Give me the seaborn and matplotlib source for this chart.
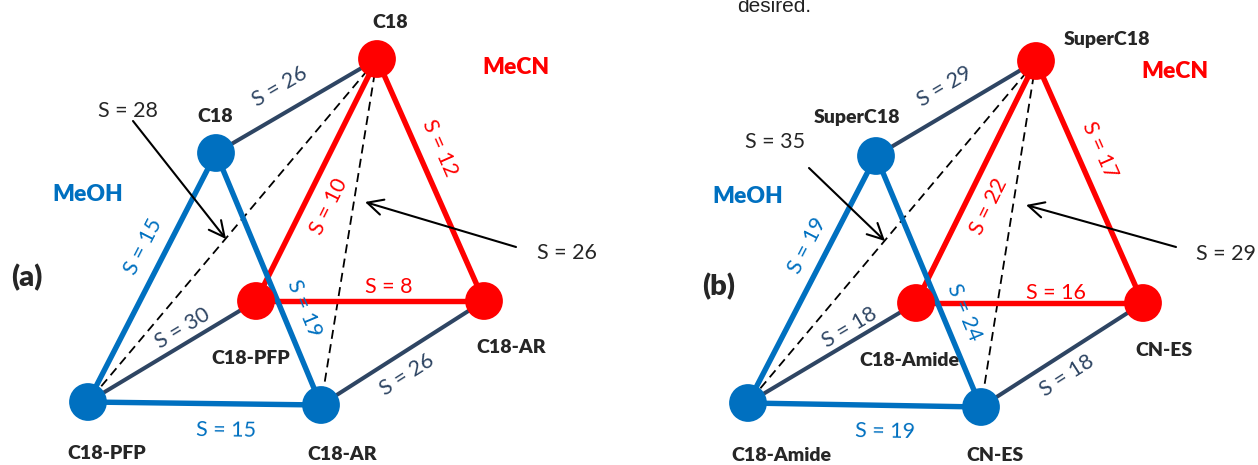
import numpy as np
import pandas as pd
import matplotlib.pyplot as plt
import seaborn as sns

sns.set_style('white')
plt.rcParams['font.family'] = ['Lato', 'DejaVu Sans']

BLUE = '#0070C0'
RED = '#FF0000'
NAVY = '#2E4563'

# ---- data (positions in picture pixels, y down) ----
# panel (a)
a_names = ['C18', 'C18-PFP', 'C18-AR']
a_meoh_x = [216, 88, 321]
a_meoh_y = [153, 402, 405]
a_mecn_x = [377, 256, 484]
a_mecn_y = [59, 301, 301]
a_meoh_S = [15, 19, 15]    # top-left, top-right, left-right
a_mecn_S = [10, 12, 8]
a_cross_S = [26, 30, 26]   # top, left, right (MeOH -> MeCN)
a_diag_S = [28, 26]        # top(MeCN) -> left(MeOH), top(MeCN) -> right(MeOH)

# panel (b)
b_names = ['SuperC18', 'C18-Amide', 'CN-ES']
b_meoh_x = [876, 748, 981]
b_meoh_y = [156, 403, 407]
b_mecn_x = [1036, 916, 1143]
b_mecn_y = [61, 303, 303]
b_meoh_S = [19, 24, 19]
b_mecn_S = [22, 17, 16]
b_cross_S = [29, 18, 18]
b_diag_S = [35, 29]

# label layout
a_lay = dict(
    meoh_lab=[(143, 247), (304, 308), (226, 430)],
    mecn_lab=[(329, 207), (440, 148), (389, 287)],
    cross_lab=[(280, 87), (183, 328), (407, 375)],
    name_meoh=[(215, 116), (107, 453), (342, 454)],
    name_mecn=[(390, 22), (251, 358), (511, 347)],
    meoh_txt=(88, 194), mecn_txt=(516, 68), letter=('(a)', 27, 278),
    diag=[((128, 111), (133, 121), (226, 239)),
          ((567, 253), (516, 247), (365, 202))],
)
b_lay = dict(
    meoh_lab=[(807, 246), (964, 312), (885, 432)],
    mecn_lab=[(989, 207), (1100, 150), (1056, 293)],
    cross_lab=[(945, 87), (850, 328), (1067, 376)],
    name_meoh=[(857, 117), (781, 455), (995, 455)],
    name_mecn=[(1107, 39), (909, 360), (1164, 350)],
    meoh_txt=(748, 196), mecn_txt=(1175, 71), letter=('(b)', 719, 287),
    diag=[((775, 142), (809, 168), (885, 241)),
          ((1226, 254), (1176, 247), (1026, 205))],
)

fig = plt.figure(figsize=(12.58, 4.65), dpi=100)
ax = fig.add_axes([0, 0, 1, 1])


def edge(ax, x0, y0, x1, y1, color, lw, ls='-', z=2):
    d = pd.DataFrame({'x': [x0, x1], 'y': [y0, y1]})
    sns.lineplot(data=d, x='x', y='y', sort=False, estimator=None, ax=ax,
                 color=color, lw=lw, linestyle=ls, zorder=z)


def angle(x0, y0, x1, y1):
    a = np.degrees(np.arctan2(-(y1 - y0), x1 - x0))
    if a > 90:
        a -= 180
    if a < -90:
        a += 180
    return a


def panel(ax, names, mx, my, cx, cy, sm, sc, sx, sd, lay):
    pairs = [(0, 1), (0, 2), (1, 2)]
    # cross edges (navy)
    for i in range(3):
        edge(ax, mx[i], my[i], cx[i], cy[i], NAVY, 2.9, z=1)
        px, py = lay['cross_lab'][i]
        ax.text(px, py, f'S = {sx[i]}', color=NAVY, fontsize=15.5,
                rotation=angle(mx[i], my[i], cx[i], cy[i]),
                ha='center', va='center', rotation_mode='anchor', zorder=6)
    # dashed diagonals
    for k in [1, 2]:
        edge(ax, cx[0], cy[0], mx[k], my[k], 'black', 1.3, ls=(0, (5, 3)), z=1)
    # MeCN triangle
    for n, (i, k) in enumerate(pairs):
        edge(ax, cx[i], cy[i], cx[k], cy[k], RED, 3.9, z=2)
        px, py = lay['mecn_lab'][n]
        ax.text(px, py, f'S = {sc[n]}', color=RED, fontsize=15.5,
                rotation=angle(cx[i], cy[i], cx[k], cy[k]),
                ha='center', va='center', rotation_mode='anchor', zorder=6)
    # MeOH triangle
    for n, (i, k) in enumerate(pairs):
        edge(ax, mx[i], my[i], mx[k], my[k], BLUE, 3.9, z=3)
        px, py = lay['meoh_lab'][n]
        ax.text(px, py, f'S = {sm[n]}', color=BLUE, fontsize=15.5,
                rotation=angle(mx[i], my[i], mx[k], my[k]),
                ha='center', va='center', rotation_mode='anchor', zorder=6)
    # nodes
    sns.scatterplot(x=cx, y=cy, ax=ax, s=740, color=RED, edgecolor='none', zorder=4)
    sns.scatterplot(x=mx, y=my, ax=ax, s=740, color=BLUE, edgecolor='none', zorder=5)
    for i in range(3):
        ax.text(*lay['name_meoh'][i], names[i], fontsize=14, fontweight='heavy',
                ha='center', va='center', zorder=7)
        ax.text(*lay['name_mecn'][i], names[i], fontsize=14, fontweight='heavy',
                ha='center', va='center', zorder=7)
    ax.text(*lay['meoh_txt'], 'MeOH', color=BLUE, fontsize=16.5, fontweight='heavy',
            ha='center', va='center')
    ax.text(*lay['mecn_txt'], 'MeCN', color=RED, fontsize=16.5, fontweight='heavy',
            ha='center', va='center')
    lt, lx, ly = lay['letter']
    ax.text(lx, ly, lt, fontsize=21, fontweight='heavy', ha='center', va='center')
    for n in range(2):
        (tx, ty), (sx0, sy0), (ex, ey) = lay['diag'][n]
        ax.text(tx, ty, f'S = {sd[n]}', fontsize=15.5, ha='center', va='center', zorder=7)
        ax.annotate('', xy=(ex, ey), xytext=(sx0, sy0),
                    arrowprops=dict(arrowstyle='->', lw=1.5, color='black',
                                    mutation_scale=28, shrinkA=0, shrinkB=0),
                    zorder=7)


panel(ax, a_names, a_meoh_x, a_meoh_y, a_mecn_x, a_mecn_y,
      a_meoh_S, a_mecn_S, a_cross_S, a_diag_S, a_lay)
panel(ax, b_names, b_meoh_x, b_meoh_y, b_mecn_x, b_mecn_y,
      b_meoh_S, b_mecn_S, b_cross_S, b_diag_S, b_lay)

# caption fragment at the top of the source page (cut off there as well)
ax.text(737, 12, 'desired.', fontsize=15, family='Liberation Sans', color='#222222',
        ha='left', va='baseline')

ax.set_xlim(0, 1258)
ax.set_ylim(465, 0)
ax.axis('off')
fig.savefig('out.png', dpi=100)
